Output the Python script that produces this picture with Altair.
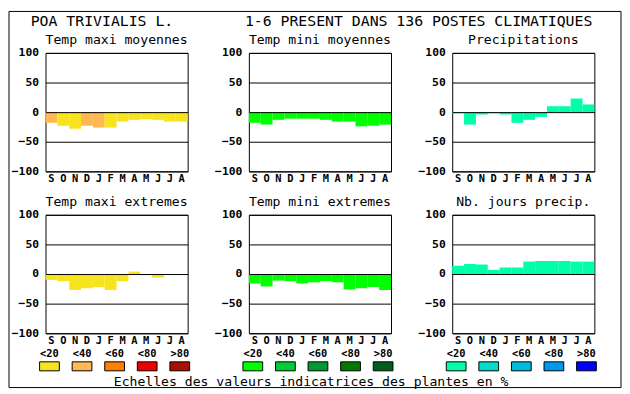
import altair as alt
import pandas as pd

MONTHS = ["S", "O", "N", "D", "J", "F", "M", "A", "M", "J", "J", "A"]
TITLES = ["Temp maxi moyennes", "Temp mini moyennes", "Precipitations",
          "Temp maxi extremes", "Temp mini extremes", "Nb. jours precip."]

TMAX_MOY = [-18, -23, -28, -23, -26, -26, -16, -13, -12, -13, -16, -16]
TMAX_MOY_CLS = [1, 0, 0, 1, 1, 0, 0, 0, 0, 0, 0, 0]
TMIN_MOY = [-18, -21, -13, -11, -11, -11, -13, -16, -16, -24, -23, -21]
TMIN_MOY_CLS = [0] * 12
PRECIP = [-2, -21, -4, -2, -4, -18, -13, -8, 10, 10, 23, 13]
PRECIP_CLS = [0] * 12
TMAX_EXT = [-10, -12, -27, -24, -22, -27, -12, 4, -2, -6, 0, 0]
TMAX_EXT_CLS = [0] * 12
TMIN_EXT = [-16, -21, -11, -12, -16, -14, -12, -14, -26, -24, -22, -27]
TMIN_EXT_CLS = [0] * 12
NB_JOURS = [14, 17, 16, 7, 11, 11, 21, 22, 22, 22, 21, 21]
NB_JOURS_CLS = [0] * 12

CLASSES = ["<20", "<40", "<60", "<80", ">80"]
PAL_MAX = ["#F8E41E", "#FFB950", "#FF8000", "#EE0000", "#AA1100"]
PAL_MIN = ["#00FF00", "#00CC33", "#009933", "#007A00", "#006020"]
PAL_PREC = ["#00FFAA", "#00DDCC", "#00BBDD", "#0099EE", "#0000FF"]

HEADER_LEFT = "POA TRIVIALIS L."
HEADER_RIGHT = "1-6 PRESENT DANS 136 POSTES CLIMATIQUES"
FOOTER = "Echelles des valeurs indicatrices des plantes en %"

FONT = "DejaVu Sans Mono"
LABEL_EXPR = "[" + ",".join("'%s'" % m for m in MONTHS) + "][datum.value]"
NOSTROKE = alt.ViewBackground(stroke="transparent")


def panel(vals, cls, title, pal):
    df = pd.DataFrame({"i": list(range(len(MONTHS))), "v": vals, "c": cls})
    return alt.Chart(df).mark_bar(strokeWidth=0).encode(
        x=alt.X("i:O", scale=alt.Scale(paddingInner=0, paddingOuter=0),
                axis=alt.Axis(title=None, labelExpr=LABEL_EXPR, labelAngle=0,
                              ticks=False, tickSize=0, domain=False, labelPadding=2,
                              labelFont=FONT, labelFontSize=10.5,
                              labelFontWeight="bold", labelColor="black")),
        y=alt.Y("v:Q", scale=alt.Scale(domain=[-100, 100], nice=False, zero=True),
                axis=alt.Axis(title=None, values=[-100, -50, 0, 50, 100],
                              grid=True, gridColor="black", gridOpacity=1,
                              gridWidth=1, ticks=False, tickSize=0, domain=False,
                              labelPadding=7, zindex=1, labelFont=FONT,
                              labelFontSize=11.5, labelFontWeight="bold",
                              labelColor="black")),
        color=alt.Color("c:O", scale=alt.Scale(domain=[0, 1, 2, 3, 4], range=pal),
                        legend=None),
    ).properties(width=144, height=120,
                 title=alt.Title(title, font=FONT, fontSize=13.3,
                                 fontWeight="normal", color="black",
                                 anchor="middle", offset=1))


def legend(pal):
    df = pd.DataFrame({"k": CLASSES, "rl": ["lab"] * 5, "rs": ["sw"] * 5})
    x = alt.X("k:N", sort=CLASSES,
              scale=alt.Scale(domain=CLASSES, range=[-12.5, 152.5],
                              paddingInner=0.394, paddingOuter=0.197),
              axis=None)
    ys = alt.Scale(domain=["lab", "sw"], paddingInner=0.3, paddingOuter=0.15)
    rect = alt.Chart(df).mark_rect(stroke="black", strokeWidth=1).encode(
        x=x, y=alt.Y("rs:N", scale=ys, axis=None),
        color=alt.Color("k:N", scale=alt.Scale(domain=CLASSES, range=pal), legend=None),
    )
    txt = alt.Chart(df).mark_text(font=FONT, fontSize=10.5, fontWeight="bold",
                                  color="black", dy=1).encode(
        x=x, y=alt.Y("rl:N", scale=ys, axis=None), text="k:N")
    return alt.layer(rect, txt).properties(width=144, height=26, view=NOSTROKE)


deco = alt.Data(values=[{"hl": HEADER_LEFT, "hr": HEADER_RIGHT, "ft": FOOTER}])
frame = alt.Chart(deco).mark_rect(fillOpacity=0, stroke="black", strokeWidth=1).encode(
    x=alt.value(-37), x2=alt.value(583), y=alt.value(-176), y2=alt.value(205))
head_l = alt.Chart(deco).mark_text(font=FONT, fontSize=15, align="left",
                                   baseline="alphabetic", color="black").encode(
    x=alt.value(-15), y=alt.value(-161), text="hl:N")
head_r = alt.Chart(deco).mark_text(font=FONT, fontSize=15, align="left",
                                   baseline="alphabetic", color="black").encode(
    x=alt.value(202), y=alt.value(-161), text="hr:N")
foot = alt.Chart(deco).mark_text(font=FONT, fontSize=13.3, align="center",
                                 baseline="alphabetic", color="black").encode(
    x=alt.value(269), y=alt.value(203), text="ft:N")

spacer_main = alt.layer(frame, head_l, head_r, foot).properties(
    width=144, height=16, view=NOSTROKE)


def spacer():
    return alt.Chart(deco).mark_text(color="black").encode(
        text=alt.value("")).properties(width=144, height=16, view=NOSTROKE)


cells = [
    panel(TMAX_MOY, TMAX_MOY_CLS, TITLES[0], PAL_MAX),
    panel(TMIN_MOY, TMIN_MOY_CLS, TITLES[1], PAL_MIN),
    panel(PRECIP, PRECIP_CLS, TITLES[2], PAL_PREC),
    spacer_main, spacer(), spacer(),
    panel(TMAX_EXT, TMAX_EXT_CLS, TITLES[3], PAL_MAX),
    panel(TMIN_EXT, TMIN_EXT_CLS, TITLES[4], PAL_MIN),
    panel(NB_JOURS, NB_JOURS_CLS, TITLES[5], PAL_PREC),
    legend(PAL_MAX), legend(PAL_MIN), legend(PAL_PREC),
]

chart = alt.concat(
    *cells, columns=3, spacing=alt.RowColnumber(row=14, column=62),
    bounds="flush"
).resolve_scale(color="independent").properties(
    padding=0, background="white"
).configure_view(stroke="black", strokeWidth=1)

chart.save("out.html", embed_options={"renderer": "svg", "actions": False})
